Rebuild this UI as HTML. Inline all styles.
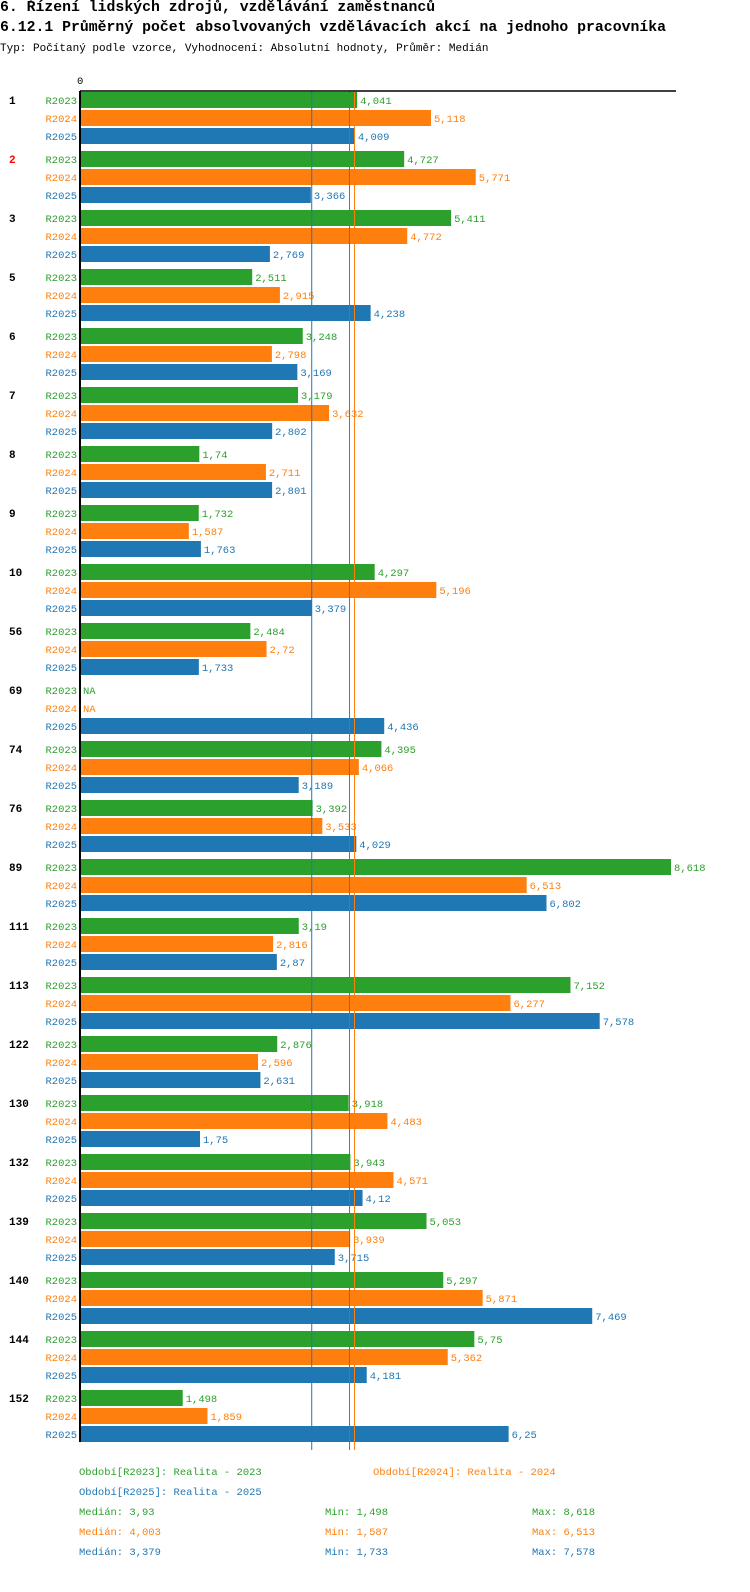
<!DOCTYPE html>
<html><head><meta charset="utf-8">
<style>
body{margin:0;background:#fff;width:750px;height:1592px;overflow:hidden;font-family:"Liberation Mono","DejaVu Sans Mono",monospace;}
.t{position:absolute;left:0;white-space:nowrap;color:#000;}
svg{position:absolute;left:0;top:0;}
</style></head><body>
<div class="t" style="top:0;font-size:14.8px;font-weight:bold;">6. Řízení lidských zdrojů, vzdělávání zaměstnanců</div>
<div class="t" style="top:20px;font-size:14.8px;font-weight:bold;">6.12.1 Průměrný počet absolvovaných vzdělávacích akcí na jednoho pracovníka</div>
<div class="t" style="top:43px;font-size:11px;">Typ: Počítaný podle vzorce, Vyhodnocení: Absolutní hodnoty, Průměr: Medián</div>
<svg id="chart" width="750" height="1592"></svg>
<script>
const categories=["1","2","3","5","6","7","8","9","10","56","69","74","76","89","111","113","122","130","132","139","140","144","152"];
const seriesNames=["R2023","R2024","R2025"];
const r2023=[4.041,4.727,5.411,2.511,3.248,3.179,1.74,1.732,4.297,2.484,null,4.395,3.392,8.618,3.19,7.152,2.876,3.918,3.943,5.053,5.297,5.75,1.498];
const r2024=[5.118,5.771,4.772,2.915,2.798,3.632,2.711,1.587,5.196,2.72,null,4.066,3.533,6.513,2.816,6.277,2.596,4.483,4.571,3.939,5.871,5.362,1.859];
const r2025=[4.009,3.366,2.769,4.238,3.169,2.802,2.801,1.763,3.379,1.733,4.436,3.189,4.029,6.802,2.87,7.578,2.631,1.75,4.12,3.715,7.469,4.181,6.25];
const medians=[3.93,4.003,3.379];
const mins=[1.498,1.587,1.733];
const maxs=[8.618,6.513,7.578];
const colors=["#2ca02c","#ff7f0e","#1f77b4"];
const series=[r2023,r2024,r2025];
const NS="http://www.w3.org/2000/svg";
const svg=document.getElementById('chart');
const x0=80,scale=68.58;
const xs=v=>x0+v*scale;
const ys=(g,k)=>92+g*59+k*18;
function mk(tag,attrs,txt){const e=document.createElementNS(NS,tag);for(const a in attrs)e.setAttribute(a,attrs[a]);if(txt!=null)e.textContent=txt;svg.appendChild(e);return e;}
const fmt=v=>String(v).replace('.',',');
categories.forEach((c,g)=>{
  const gl=mk('text',{x:9,y:ys(g,0)+12,'font-size':11,'font-weight':'bold',fill:g===1?'#ff0000':'#000','font-family':'Liberation Mono,monospace'},c);
  
  
  series.forEach((s,k)=>{
    const y=ys(g,k);
    const sl=mk('text',{x:77,y:y+12,'font-size':10.5,fill:colors[k],'text-anchor':'end','font-family':'Liberation Mono,monospace'},seriesNames[k]);
    
    
    const v=s[g];
    if(v==null){
      const na=mk('text',{x:83,y:y+12,'font-size':10.5,fill:colors[k],'font-family':'Liberation Mono,monospace'},'NA');
      
      
      return;
    }
    const r=mk('rect',{x:x0,y:y,width:xs(v)-x0,height:16,fill:colors[k]});
    
    
    const vl=mk('text',{x:xs(v)+3,y:y+12,'font-size':10.5,fill:colors[k],'font-family':'Liberation Mono,monospace'},fmt(v));
    
    
  });
});
const yEnd=ys(categories.length-1,2)+16;
medians.forEach((m,k)=>{
  const l=mk('line',{x1:xs(m),x2:xs(m),y1:91,y2:yEnd+8,stroke:colors[k],'stroke-width':1});
  
  
});
const ax=mk('line',{x1:x0,x2:676,y1:91,y2:91,stroke:'#000','stroke-width':1.5});


const ay=mk('line',{x1:x0,x2:x0,y1:91,y2:yEnd,stroke:'#000','stroke-width':2});


const zl=mk('text',{x:x0-3,y:84,'font-size':10.5,fill:'#000','font-family':'Liberation Mono,monospace'},'0');


const legY=yEnd+33;
const leg=[[79,legY,0,'Období[R2023]: Realita - 2023'],[373,legY,1,'Období[R2024]: Realita - 2024'],[79,legY+20,2,'Období[R2025]: Realita - 2025']];
leg.forEach(([x,y,k,t])=>{
  const e=mk('text',{x:x,y:y,'font-size':10.5,fill:colors[k],'font-family':'Liberation Mono,monospace'},t);
  
  
});
[0,1,2].forEach(k=>{
  const y=legY+40+k*20;
  const a=mk('text',{x:79,y:y,'font-size':10.5,fill:colors[k],'font-family':'Liberation Mono,monospace'},'Medián: '+fmt(medians[k]));
  
  
  const b=mk('text',{x:325,y:y,'font-size':10.5,fill:colors[k],'font-family':'Liberation Mono,monospace'},'Min: '+fmt(mins[k]));
  
  
  const c=mk('text',{x:532,y:y,'font-size':10.5,fill:colors[k],'font-family':'Liberation Mono,monospace'},'Max: '+fmt(maxs[k]));
  
  
});
</script>
</body></html>
